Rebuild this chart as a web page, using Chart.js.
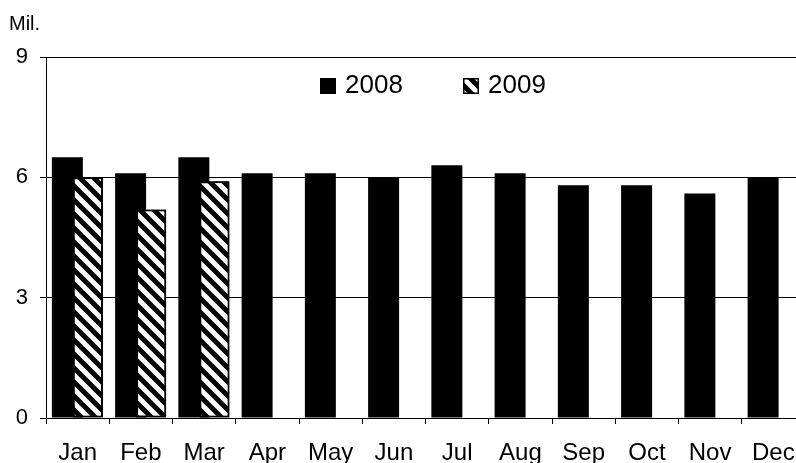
<!DOCTYPE html>
<html>
<head>
<meta charset="utf-8">
<script src="https://cdn.jsdelivr.net/npm/chart.js@4/dist/chart.umd.min.js"></script>
<style>
  html, body { margin: 0; padding: 0; background: #fff; overflow: hidden; width: 796px; height: 463px; }
  #c { display: block; }
</style>
</head>
<body>
<canvas id="c" width="805" height="463" style="width:805px;height:463px"></canvas>
<script>
const categories = ['Jan', 'Feb', 'Mar', 'Apr', 'May', 'Jun', 'Jul', 'Aug', 'Sep', 'Oct', 'Nov', 'Dec'];
const values2008 = [6.5, 6.1, 6.5, 6.1, 6.1, 6.0, 6.3, 6.1, 5.8, 5.8, 5.6, 6.0];
const values2009 = [6.0, 5.2, 5.9, null, null, null, null, null, null, null, null, null];
const seriesLabels = ['2008', '2009'];
const yTicks = [0, 3, 6, 9];
const unitLabel = 'Mil.';

const FONT = '"Liberation Sans", Arial, sans-serif';

function makeHatch() {
  const s = 14;
  const t = document.createElement('canvas');
  t.width = s; t.height = s;
  const g = t.getContext('2d');
  g.fillStyle = '#fff';
  g.fillRect(0, 0, s, s);
  g.strokeStyle = '#000';
  g.lineWidth = 5;
  g.lineCap = 'square';
  for (const o of [-s, 0, s]) {
    g.beginPath();
    g.moveTo(o - 2, -2);
    g.lineTo(o + s + 2, s + 2);
    g.stroke();
  }
  return document.getElementById('c').getContext('2d').createPattern(t, 'repeat');
}
const hatch = makeHatch();

const topLayer = {
  id: 'topLayer',
  afterDatasetsDraw(chart) {
    const ctx = chart.ctx, a = chart.chartArea;
    ctx.save();
    ctx.beginPath();
    ctx.rect(a.left, a.top, a.right - a.left, a.bottom - a.top);
    ctx.clip();
    chart.getDatasetMeta(1).controller.draw();
    ctx.restore();
  }
};

const extras = {
  id: 'extras',
  afterDraw(chart) {
    const ctx = chart.ctx;
    ctx.save();
    ctx.fillStyle = '#000';
    ctx.font = '20px ' + FONT;
    ctx.textBaseline = 'alphabetic';
    ctx.textAlign = 'left';
    ctx.fillText(unitLabel, 9, 30);
    // legend
    const items = [
      { x: 320, fill: '#000', label: chart.data.datasets[0].label },
      { x: 463, fill: hatch, label: chart.data.datasets[1].label }
    ];
    ctx.font = '26px ' + FONT;
    ctx.textBaseline = 'middle';
    for (const it of items) {
      ctx.fillStyle = it.fill;
      ctx.fillRect(it.x, 78, 16, 16);
      ctx.strokeStyle = '#000';
      ctx.lineWidth = 1.5;
      ctx.strokeRect(it.x + 0.75, 78.75, 14.5, 14.5);
      ctx.fillStyle = '#000';
      ctx.fillText(it.label, it.x + 25, 86);
    }
    ctx.restore();
  }
};

new Chart(document.getElementById('c'), {
  type: 'bar',
  data: {
    labels: categories,
    datasets: [
      {
        label: seriesLabels[0],
        data: values2008,
        backgroundColor: '#000',
        borderColor: '#000',
        borderWidth: 0,
        categoryPercentage: 0.649,
        barPercentage: 1.51
      },
      {
        label: seriesLabels[1],
        data: values2009,
        backgroundColor: hatch,
        borderColor: '#000',
        borderWidth: 2,
        borderSkipped: false,
        categoryPercentage: 0.649,
        barPercentage: 1.47
      }
    ]
  },
  options: {
    responsive: false,
    animation: false,
    events: [],
    layout: { padding: { left: 0, right: 0, top: 57, bottom: 0 } },
    plugins: { legend: { display: false }, tooltip: { enabled: false }, title: { display: false } },
    scales: {
      x: {
        offset: true,
        grid: { display: true, offset: true, drawOnChartArea: false, drawTicks: true, tickLength: 6, color: '#000', lineWidth: 1 },
        border: { display: true, color: '#000', width: 1 },
        ticks: { color: '#000', font: { family: FONT, size: 24 }, padding: 15, maxRotation: 0, autoSkip: false },
        afterFit(s) { s.height = 45; s.paddingLeft = 0; s.paddingRight = 0; }
      },
      y: {
        min: 0, max: 9,
        afterBuildTicks(s) { s.ticks = yTicks.map(v => ({ value: v })); },
        grid: { color: '#000', lineWidth: 1, drawTicks: true, tickLength: 6 },
        border: { display: true, color: '#000', width: 1 },
        ticks: { color: '#000', font: { family: FONT, size: 22 }, padding: 12 },
        afterFit(s) { s.width = 46; s.paddingTop = 0; s.paddingBottom = 0; }
      }
    }
  },
  plugins: [topLayer, extras]
});
</script>
</body>
</html>
